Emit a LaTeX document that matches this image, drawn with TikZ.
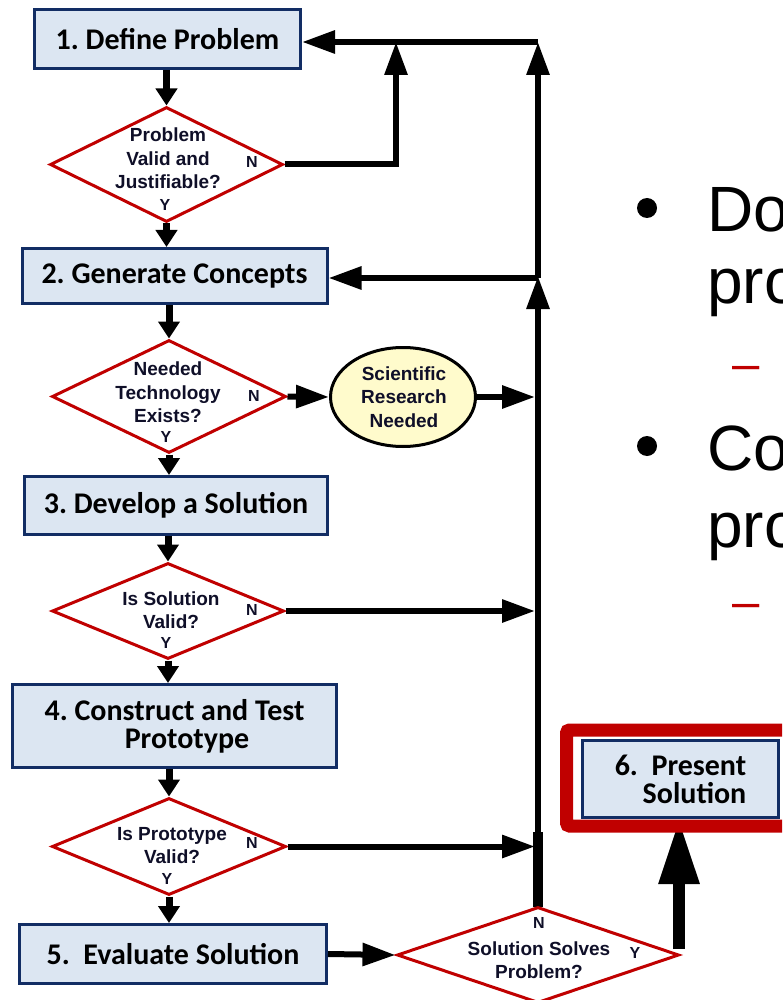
\documentclass[tikz,border=0pt]{standalone}
\usepackage{fontspec}
\setmainfont{Liberation Sans}
\newfontfamily\calfont{Carlito}
\usetikzlibrary{shapes.geometric,arrows.meta}
\definecolor{navy}{RGB}{18,45,100}
\definecolor{boxfill}{RGB}{220,230,242}
\definecolor{dred}{RGB}{192,0,0}
\definecolor{ellfill}{RGB}{255,251,204}
\definecolor{dtext}{RGB}{15,15,40}
\begin{document}
\begin{tikzpicture}[x=1pt,y=-1pt,
  stepbox/.style={draw=navy, line width=3pt, fill=boxfill, rectangle, inner sep=0pt,
    font=\calfont\bfseries\fontsize{30}{28}\selectfont, text=black, align=center},
  decision/.style={draw=dred, line width=3pt, fill=white, diamond, inner sep=0pt},
  dtxt/.style={font=\bfseries\fontsize{19}{23.5}\selectfont, text=dtext, align=center, inner sep=0pt},
  yn/.style={font=\bfseries\fontsize{16}{16}\selectfont, text=dtext, inner sep=0pt},
  flow/.style={line width=6pt, -{Triangle[length=33pt,width=22pt]}},
  sflow/.style={line width=7pt, -{Triangle[length=17pt,width=21pt]}},
  plain/.style={line width=6pt},
  bigtxt/.style={font=\fontsize{64}{64}\selectfont, anchor=base west, inner sep=0pt},
  dashtxt/.style={font=\fontsize{49}{49}\selectfont, text=dred, anchor=base west, inner sep=0pt},
]
\useasboundingbox (0,0) rectangle (782,1000);
\clip (0,0) rectangle (782,1000);

% boxes
\node[stepbox, minimum width=266pt, minimum height=59pt] (b1) at (167.5,39) {1.~Define Problem};
\node[stepbox, minimum width=305pt, minimum height=55pt] (b2) at (174.5,276) {2.~Generate Concepts};
\node[stepbox, minimum width=303pt, minimum height=58pt] (b3) at (176,505.5) {3.~Develop a Solution};
\node[stepbox, minimum width=324pt, minimum height=83pt] (b4) at (174.5,726) {4.~Construct and Test\\\hspace*{25pt}Prototype};
\node[stepbox, minimum width=307pt, minimum height=59pt] (b5) at (173,954) {5.~~Evaluate Solution};
\node[stepbox, minimum width=196pt, minimum height=77pt, align=right] (b6) at (680.5,779) {6.~~Present\\Solution};

% decisions
\node[decision, minimum width=233pt, minimum height=115pt] (d1) at (166.5,164.5) {};
\node[dtxt] (t1) at (168,158.5) {Problem\\Valid and\\Justifiable?};
\node[yn] (y1) at (165,205) {Y};
\node[yn] (n1) at (252,162) {N};

\node[decision, minimum width=234pt, minimum height=113pt] (d2) at (169,396.5) {};
\node[dtxt] (t2) at (168,392.5) {Needed\\Technology\\Exists?};
\node[yn] (y2) at (166,437) {Y};
\node[yn] (n2) at (254,396) {N};

\node[decision, minimum width=232pt, minimum height=96pt] (d3) at (168,611) {};
\node[dtxt] (t3) at (171,610) {Is Solution\\Valid?};
\node[yn] (y3) at (166,643) {Y};
\node[yn] (n3) at (252,610) {N};

\node[decision, minimum width=234pt, minimum height=97pt] (d4) at (169,846.5) {};
\node[dtxt] (t4) at (172,845.5) {Is Prototype\\Valid?};
\node[yn] (y4) at (167,879) {Y};
\node[yn] (n4) at (252,843) {N};

\coordinate (W) at (538,832);
\draw[line width=10pt] (538,907) -- (W);
\node[decision, minimum width=282pt, minimum height=96pt] (d6) at (538,955) {};
\node[dtxt] (t6) at (539,960) {Solution Solves\\Problem?};
\node[yn] (n6) at (539,923) {N};
\node[yn] (y6) at (635,953) {Y};

% research ellipse
\node[ellipse, draw=black, line width=3pt, fill=ellfill, minimum width=145pt, minimum height=99pt, inner sep=0pt] (e1) at (403,397) {};
\node[dtxt] (te) at (404,397) {Scientific\\Research\\Needed};

% junctions
\coordinate (J0) at (396,42);
\coordinate (J1) at (538,42);
\coordinate (J2) at (538,278);

% downward flow
\draw[sflow] (b1.south -| d1.north) -- (d1.north);
\draw[sflow] (d1.south) -- (d1.south |- b2.north);
\draw[sflow] (d2.north |- b2.south) -- (d2.north);
\draw[sflow] (d2.south) -- (d2.south |- b3.north);
\draw[sflow] (d3.north |- b3.south) -- (d3.north);
\draw[sflow] (d3.south) -- (d3.south |- b4.north);
\draw[sflow] (d4.north |- b4.south) -- (d4.north);
\draw[sflow] (d4.south) -- (d4.south |- b5.north);

% loops
\draw[flow] (d1.east) -| (J0);
\draw[flow] (J1) -- (J1 -| b1.east);
\draw[flow] (J2) -- (J2 -| b2.east);
\draw[flow] (J2) -- (J1);
\draw[flow, shorten >=-2pt] (d6.north) -- (J2);
\draw[flow] (d2.east) -- (e1.west);
\draw[flow, shorten >=3pt] (e1.east) -- (e1.east -| J2);
\draw[flow, shorten >=3pt] (d3.east) -- (d3.east -| J2);
\draw[flow, shorten >=3pt] (d4.east) -- (d4.east -| J2);
\draw[flow] (b5.east) -- (d6.west);

% yes to present
\coordinate (Ys) at (679,949);
\draw[line width=12pt, -{Triangle[length=65pt,width=38pt]}] (Ys) -- (Ys |- b6.south);
\draw[dred, line width=13pt, rounded corners=3pt] (566.5,730) rectangle (800,826);

% right slide text
\fill (647,208) circle (10);
\fill (647,446) circle (10);
\node[bigtxt] (r1) at (707,232) {Do};
\node[bigtxt] (r2) at (707,303) {pro};
\node[dashtxt] (s1) at (732,380) {–};
\node[bigtxt] (r3) at (707,470) {Co};
\node[bigtxt] (r4) at (707,547) {pro};
\node[dashtxt] (s2) at (732,618) {–};
\end{tikzpicture}
\end{document}
